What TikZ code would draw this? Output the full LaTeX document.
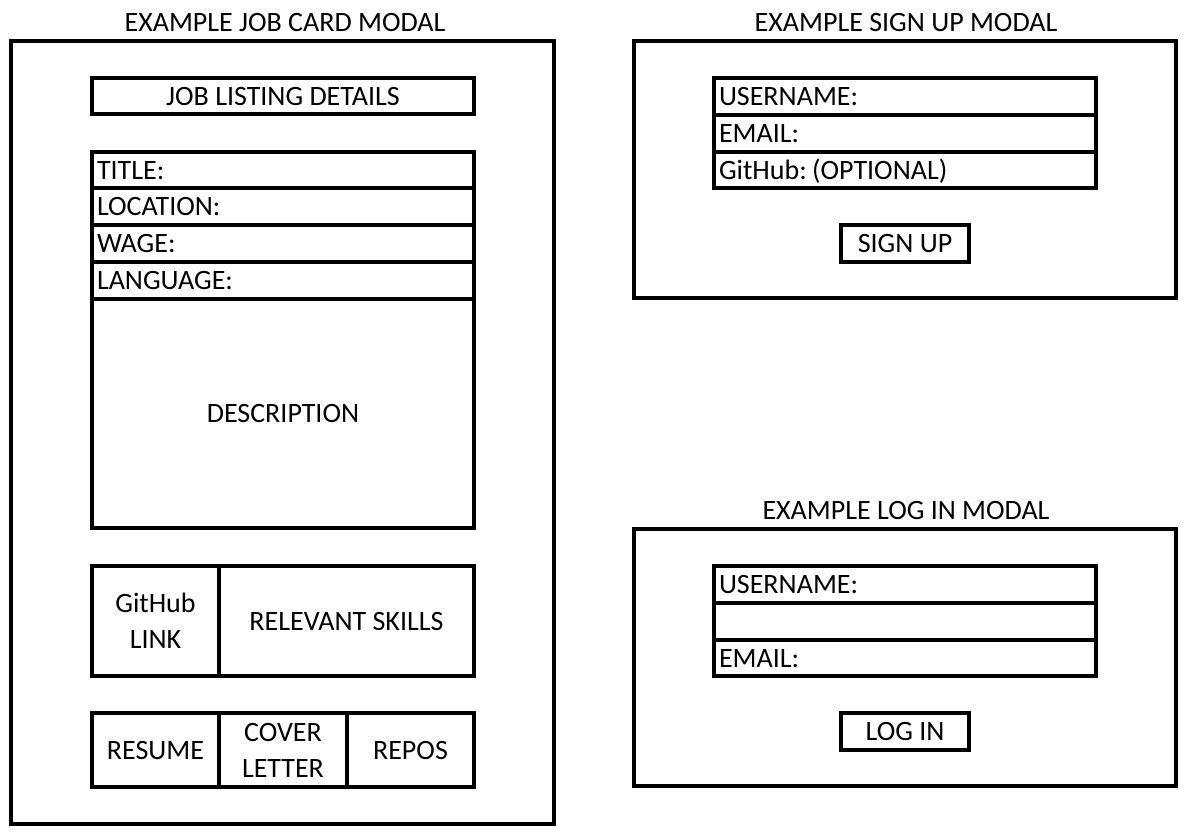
\documentclass[tikz,border=0pt]{standalone}
\usepackage{fontspec}
\setmainfont{Carlito}
\newcommand\myfs{\fontsize{28}{36}\selectfont}
% \cell{name}{x1}{y1}{x2}{y2}{style}{text}
\newcommand\cell[7]{\node[#6, minimum width={(#4-#2)*1pt}, minimum height={(#5-#3)*1pt}] (#1) at ({(#2+#4)/2},{(#3+#5)/2}) {#7};}
\begin{document}
\begin{tikzpicture}[x=1pt,y=-1pt,
  frame/.style={draw, line width=3.3pt, inner sep=0pt},
  cbox/.style={draw, line width=3.3pt, inner sep=0pt, font=\myfs, align=center, text height=18pt, text depth=0pt},
  mbox/.style={draw, line width=3.3pt, inner sep=0pt, font=\myfs, align=center},
  lbox/.style={draw, line width=3.3pt, inner ysep=0pt, inner xsep=5pt, font=\myfs, align=left, text height=18pt, text depth=0pt},
  heading/.style={font=\myfs, inner sep=0pt, text height=18pt, text depth=0pt}]
\useasboundingbox (0,0) rectangle (1192,838);
% ---------- Job card modal ----------
\node[heading] (jobhead) at (285,22) {EXAMPLE JOB CARD MODAL};
\cell{jobframe}{11}{41}{554}{824}{frame}{}
\cell{jld}{92}{78}{474}{114}{cbox}{JOB LISTING DETAILS}
\cell{jtitle}{92}{152}{474}{188}{lbox, text width=372pt}{TITLE:}
\cell{jloc}{92}{188}{474}{225}{lbox, text width=372pt}{LOCATION:}
\cell{jwage}{92}{225}{474}{262}{lbox, text width=372pt}{WAGE:}
\cell{jlang}{92}{262}{474}{299}{lbox, text width=372pt}{LANGUAGE:}
\cell{jdesc}{92}{299}{474}{528}{cbox}{DESCRIPTION}
\cell{jgh}{92}{566}{219}{676}{mbox}{GitHub\\LINK}
\cell{jskills}{219}{566}{474}{676}{cbox}{RELEVANT SKILLS}
\cell{jresume}{92}{713}{219}{787}{cbox}{RESUME}
\cell{jcover}{219}{713}{347}{787}{mbox}{COVER\\LETTER}
\cell{jrepos}{347}{713}{474}{787}{cbox}{REPOS}
% ---------- Sign up modal ----------
\node[heading] (suphead) at (906,22) {EXAMPLE SIGN UP MODAL};
\cell{supframe}{634}{41}{1176}{298}{frame}{}
\cell{supuser}{714}{78}{1096}{115}{lbox, text width=372pt}{USERNAME:}
\cell{supemail}{714}{115}{1096}{152}{lbox, text width=372pt}{EMAIL:}
\cell{supgh}{714}{152}{1096}{188}{lbox, text width=372pt}{GitHub:\kern-4pt\ (OPTIONAL)}
\cell{supbtn}{841}{225}{969}{262}{cbox}{SIGN UP}
% ---------- Log in modal ----------
\node[heading] (loghead) at (906,510) {EXAMPLE LOG IN MODAL};
\cell{logframe}{634}{529}{1176}{786}{frame}{}
\cell{loguser}{714}{566}{1096}{603}{lbox, text width=372pt}{USERNAME:}
\cell{logblank}{714}{603}{1096}{640}{lbox, text width=372pt}{}
\cell{logemail}{714}{640}{1096}{676}{lbox, text width=372pt}{EMAIL:}
\cell{logbtn}{841}{713}{969}{750}{cbox}{LOG IN}
\end{tikzpicture}
\end{document}
